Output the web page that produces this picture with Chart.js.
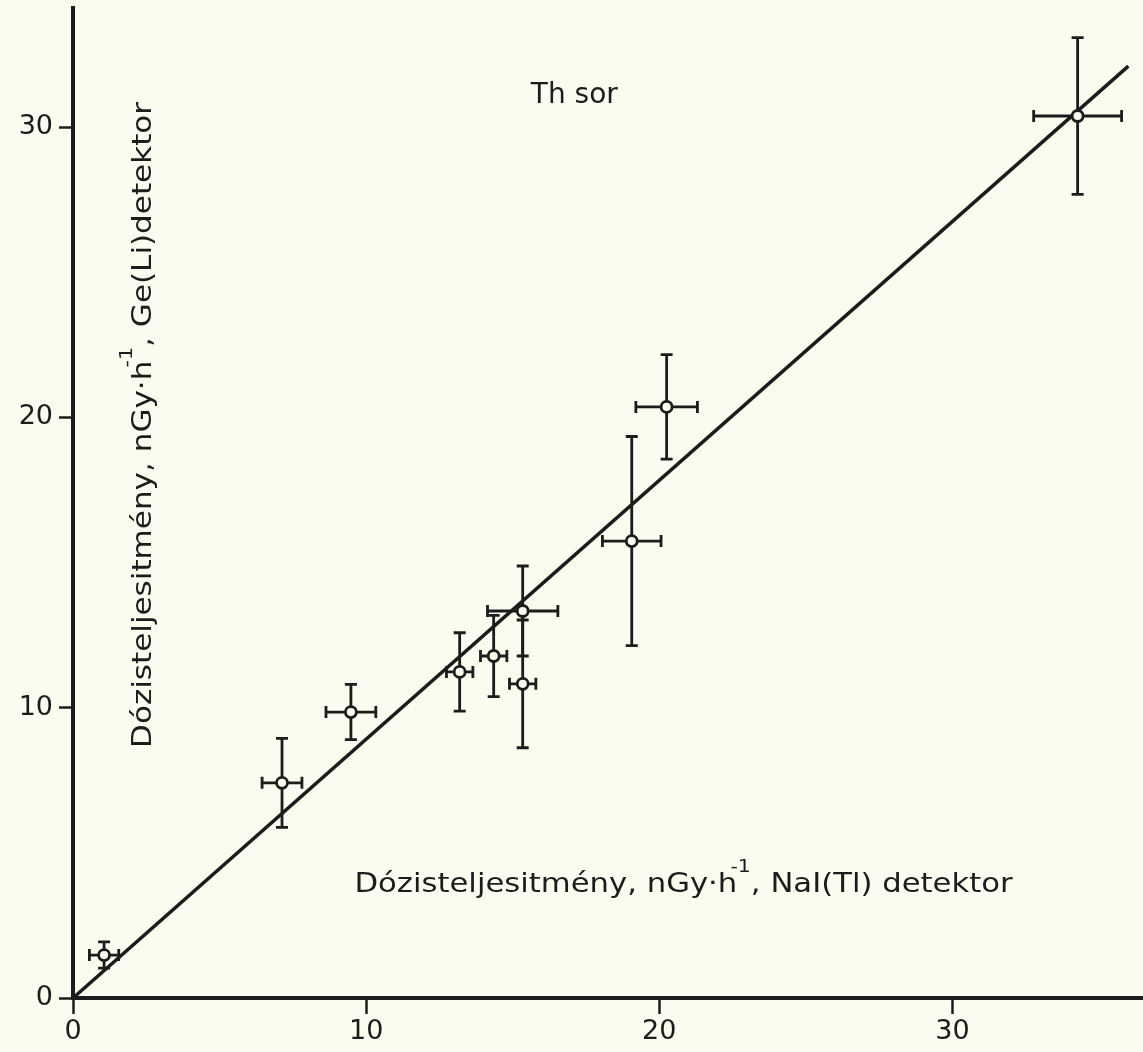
<!DOCTYPE html>
<html>
<head>
<meta charset="utf-8">
<script src="https://cdn.jsdelivr.net/npm/chart.js@4"></script>
<style>
  html, body { margin: 0; padding: 0; background: #fcfbf0; overflow: hidden; }
  canvas { display: block; }
</style>
</head>
<body>
<canvas id="thChart" width="1143" height="1052"></canvas>
<script>
// NaI(Tl) dose rate (x) vs Ge(Li) dose rate (y), nGy/h
const naiDose = [1.06, 7.13, 9.48, 13.19, 14.35, 15.34, 15.34, 19.06, 20.25, 34.27];
const geliDose = [1.48, 7.41, 9.85, 11.23, 11.78, 13.33, 10.82, 15.74, 20.36, 30.38];
const naiErr = [0.5, 0.68, 0.85, 0.45, 0.45, 1.2, 0.45, 1.0, 1.05, 1.5];
const geliErr = [0.45, 1.53, 0.95, 1.35, 1.4, 1.55, 2.2, 3.6, 1.8, 2.7];

// fitted line
const fitX = [0, 36];
const fitY = [0, 32.1];

const xTicks = [0, 10, 20, 30];
const yTicks = [0, 10, 20, 30];

const ink = '#1c1c1c';
const paper = '#fcfbf0';

const points = naiDose.map((x, i) => ({ x: x, y: geliDose[i] }));
const fitLine = fitX.map((x, i) => ({ x: x, y: fitY[i] }));

const errorBars = {
  id: 'errorBars',
  beforeDatasetsDraw(chart) {
    const ctx = chart.ctx;
    const xs = chart.scales.x, ys = chart.scales.y;
    const cap = 6;
    ctx.save();
    ctx.strokeStyle = ink;
    ctx.lineWidth = 2.8;
    naiDose.forEach((x, i) => {
      const px = xs.getPixelForValue(x), py = ys.getPixelForValue(geliDose[i]);
      const x1 = xs.getPixelForValue(x - naiErr[i]), x2 = xs.getPixelForValue(x + naiErr[i]);
      const y1 = ys.getPixelForValue(geliDose[i] - geliErr[i]), y2 = ys.getPixelForValue(geliDose[i] + geliErr[i]);
      ctx.beginPath();
      ctx.moveTo(x1, py); ctx.lineTo(x2, py);
      ctx.moveTo(x1, py - cap); ctx.lineTo(x1, py + cap);
      ctx.moveTo(x2, py - cap); ctx.lineTo(x2, py + cap);
      ctx.moveTo(px, y1); ctx.lineTo(px, y2);
      ctx.moveTo(px - cap, y1); ctx.lineTo(px + cap, y1);
      ctx.moveTo(px - cap, y2); ctx.lineTo(px + cap, y2);
      ctx.stroke();
    });
    ctx.restore();
  }
};

// draws "main" + superscript "-1" + "rest", squeezed to a given width
function drawLabel(ctx, parts, width) {
  const big = '27px "DejaVu Sans"', small = '18px "DejaVu Sans"';
  ctx.font = big;
  const w1 = ctx.measureText(parts[0]).width;
  const w3 = ctx.measureText(parts[2]).width;
  ctx.font = small;
  const w2 = ctx.measureText('-1').width;
  const sx = width / (w1 + w2 + w3);
  ctx.scale(sx, 1);
  ctx.textAlign = 'left';
  ctx.textBaseline = 'middle';
  ctx.font = big;
  ctx.fillText(parts[0], 0, 0);
  ctx.font = small;
  ctx.fillText('-1', w1 - 6, -17);
  ctx.font = big;
  ctx.fillText(parts[2], w1 + w2 - 6, 0);
}

const annotations = {
  id: 'annotations',
  afterDraw(chart) {
    const ctx = chart.ctx;
    const xs = chart.scales.x, ys = chart.scales.y;
    ctx.save();
    ctx.fillStyle = ink;
    ctx.font = '28px "DejaVu Sans"';
    ctx.textAlign = 'center';
    ctx.textBaseline = 'middle';
    ctx.fillText('Th sor', xs.getPixelForValue(17.1), ys.getPixelForValue(31.07));
    ctx.restore();

    ctx.save();
    ctx.fillStyle = ink;
    ctx.translate(xs.getPixelForValue(9.6), ys.getPixelForValue(3.9));
    drawLabel(ctx, ['Dózisteljesitmény, nGy·h', '-1', ', NaI(Tl) detektor'], 665);
    ctx.restore();

    ctx.save();
    ctx.fillStyle = ink;
    ctx.translate(144, 748);
    ctx.rotate(-Math.PI / 2);
    drawLabel(ctx, ['Dózisteljesitmény, nGy·h', '-1', ', Ge(Li)detektor'], 653);
    ctx.restore();
  }
};

function noPadding(axis) {
  axis.paddingTop = 0;
  axis.paddingBottom = 0;
  axis.paddingLeft = 0;
  axis.paddingRight = 0;
}

const ctx = document.getElementById('thChart').getContext('2d');

const thChart = new Chart(ctx, {
  type: 'scatter',
  data: {
    datasets: [{
      label: 'Mérési pontok',
      data: points,
      pointStyle: 'circle',
      pointRadius: 5.5,
      pointBorderWidth: 2.8,
      pointBorderColor: ink,
      pointBackgroundColor: paper,
      order: 0
    }, {
      label: 'Illesztett egyenes',
      type: 'line',
      data: fitLine,
      borderColor: ink,
      borderWidth: 3.5,
      pointRadius: 0,
      fill: false,
      order: 1
    }]
  },
  options: {
    responsive: false,
    animation: false,
    layout: { autoPadding: false, padding: { top: 8, right: 0, left: 0, bottom: 0 } },
    plugins: {
      legend: { display: false },
      tooltip: { enabled: false }
    },
    scales: {
      x: {
        type: 'linear',
        min: 0,
        max: 36.5,
        afterBuildTicks: (axis) => { axis.ticks = xTicks.map(v => ({ value: v })); },
        afterFit: (axis) => { axis.height = 54; noPadding(axis); },
        border: { display: true, color: ink, width: 4 },
        grid: { drawOnChartArea: false, drawTicks: true, tickLength: 16, tickWidth: 2.5, tickColor: ink },
        ticks: { color: ink, padding: 2, font: { family: 'DejaVu Sans', size: 27 } }
      },
      y: {
        type: 'linear',
        min: 0,
        max: 34.1,
        afterBuildTicks: (axis) => { axis.ticks = yTicks.map(v => ({ value: v })); },
        afterFit: (axis) => { axis.width = 73; noPadding(axis); },
        border: { display: true, color: ink, width: 4 },
        grid: { drawOnChartArea: false, drawTicks: true, tickLength: 14, tickWidth: 2.5, tickColor: ink },
        ticks: { color: ink, padding: 6, font: { family: 'DejaVu Sans', size: 27 } }
      }
    }
  },
  plugins: [errorBars, annotations]
});
</script>
</body>
</html>
